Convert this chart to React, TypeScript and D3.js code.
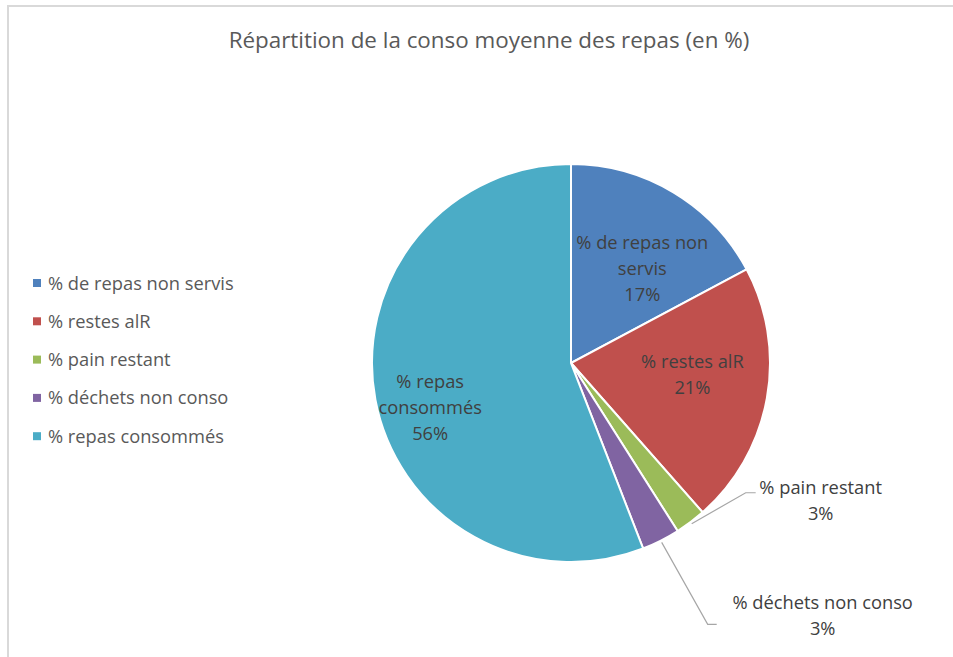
import React from "react";
import * as d3 from "d3";

const categories = [
  "% de repas non servis",
  "% restes alR",
  "% pain restant",
  "% déchets non conso",
  "% repas consommés",
];
const values = [17.2, 21.3, 2.5, 3.1, 55.9];
const colors = ["#4F81BD", "#C0504D", "#9BBB59", "#8064A2", "#4BACC6"];
const labelLines = [
  ["% de repas non", "servis"],
  ["% restes alR"],
  ["% pain restant"],
  ["% déchets non conso"],
  ["% repas", "consommés"],
];
const title = "Répartition de la conso moyenne des repas (en %)";

const W = 953;
const H = 657;
const FONT = "'Open Sans', 'Noto Sans', sans-serif";

export default function App() {
  const cx = 571;
  const cy = 363;
  const r = 199;
  const total = d3.sum(values);
  const pie = d3
    .pie<number>()
    .sort(null)
    .value((d) => d)
    .startAngle(0)
    .endAngle(2 * Math.PI);
  const arcs = pie(values);
  const arc = d3.arc<d3.PieArcDatum<number>>().innerRadius(0).outerRadius(r);
  const fmt = (v: number) => `${Math.round((v / total) * 100)}%`;

  const insideCfg: Record<number, { k: number; dx: number; dy: number }> = {
    0: { k: 0.56, dx: 14, dy: 2 },
    1: { k: 0.62, dx: 0, dy: -10 },
    4: { k: 0.72, dx: 0, dy: 19 },
  };
  const outsideCfg: Record<number, { elbow: [number, number]; end: number; tx: number; ty: number }> = {
    2: { elbow: [54, -31], end: 10, tx: 75, ty: 1 },
    3: { elbow: [46, 82], end: 9, tx: 115, ty: -15 },
  };
  const lineH = 26;
  const fs = 18.3;

  return (
    <svg
      width={W}
      height={H}
      style={{ position: "absolute", left: 0, top: 0, background: "#fff" }}
      fontFamily={FONT}
    >
      <rect x={8} y={6} width={W + 20} height={H + 20} fill="#fff" stroke="#d9d9d9" strokeWidth={2} />
      <text x={489} y={48} textAnchor="middle" fontSize={22.4} fill="#595959">
        {title}
      </text>
      <g transform={`translate(${cx},${cy})`}>
        {arcs.map((a, i) => (
          <path key={i} d={arc(a) || ""} fill={colors[i]} stroke="#fff" strokeWidth={2} />
        ))}
        {arcs.map((a, i) => {
          const mid = (a.startAngle + a.endAngle) / 2;
          if (insideCfg[i]) {
            const c = insideCfg[i];
            const lr = r * c.k;
            const x = Math.sin(mid) * lr + c.dx;
            const y = -Math.cos(mid) * lr + c.dy;
            const lines = [...labelLines[i], fmt(values[i])];
            const y0 = y - ((lines.length - 1) * lineH) / 2 + 6;
            return (
              <text key={"l" + i} textAnchor="middle" fontSize={fs} fill="#404040">
                {lines.map((t, j) => (
                  <tspan key={j} x={x} y={y0 + j * lineH}>
                    {t}
                  </tspan>
                ))}
              </text>
            );
          }
          const o = outsideCfg[i];
          const px = Math.sin(mid) * (r + 2);
          const py = -Math.cos(mid) * (r + 2);
          const ex = px + o.elbow[0];
          const ey = py + o.elbow[1];
          const lines = [...labelLines[i], fmt(values[i])];
          const tx = ex + o.tx;
          const ty = ey + o.ty;
          return (
            <g key={"o" + i}>
              <polyline
                points={`${px},${py} ${ex},${ey} ${ex + o.end},${ey}`}
                fill="none"
                stroke="#a6a6a6"
                strokeWidth={1.2}
              />
              <text textAnchor="middle" fontSize={fs} fill="#404040">
                {lines.map((t, j) => (
                  <tspan key={j} x={tx} y={ty + j * lineH}>
                    {t}
                  </tspan>
                ))}
              </text>
            </g>
          );
        })}
      </g>
      <g>
        {categories.map((c, i) => {
          const y = 283 + i * 38.3;
          return (
            <g key={c}>
              <rect x={33} y={y - 4} width={8} height={8} fill={colors[i]} />
              <text x={48} y={y + 6.5} fontSize={fs} fill="#595959">
                {c}
              </text>
            </g>
          );
        })}
      </g>
    </svg>
  );
}
